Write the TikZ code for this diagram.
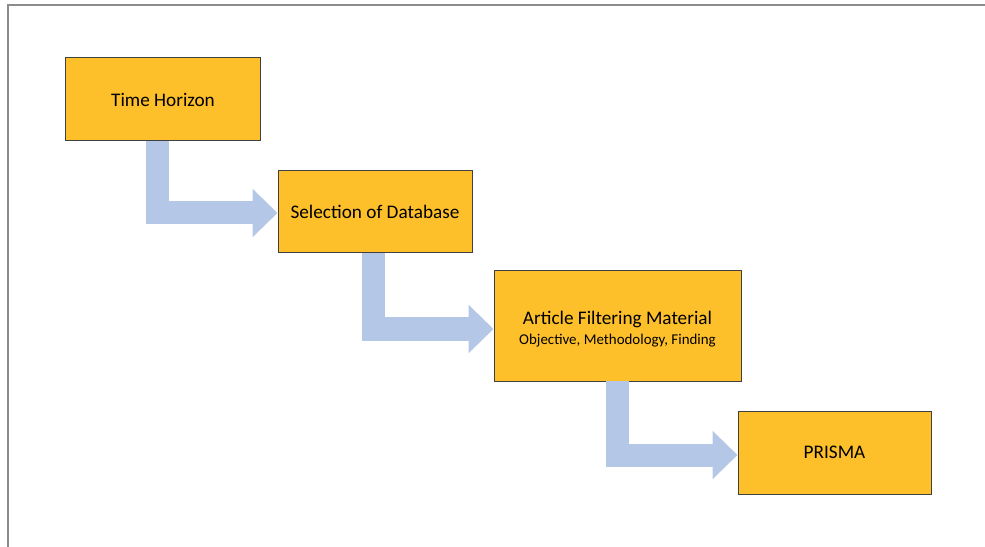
\documentclass[tikz,border=0pt]{standalone}
\usepackage{fontspec}
\setmainfont{Carlito}
\usetikzlibrary{arrows.meta}
\definecolor{boxfill}{HTML}{FEC02A}
\definecolor{boxline}{HTML}{404040}
\definecolor{arrowblue}{HTML}{B4C7E7}
\definecolor{framegray}{HTML}{8C8C8C}
\tikzset{
  stepbox/.style={draw=boxline, line width=1bp, fill=boxfill, inner sep=0pt,
    align=center, font=\fontsize{19.3}{23}\selectfont},
  bentarrow/.style={draw=arrowblue, line width=23bp, line join=miter,
    -{Triangle[length=25bp,width=47bp]}},
}
\begin{document}
\begin{tikzpicture}[x=1bp,y=-1bp]
\useasboundingbox (0,0) rectangle (985,547);
\draw[framegray, line width=2bp] (7.5,547) -- (7.5,5) -- (985,5);

\node[stepbox, minimum width=194bp, minimum height=83bp] (th) at (163,99.5) {Time Horizon};
\node[stepbox, minimum width=194bp, minimum height=82bp] (sd) at (375,212) {Selection of Database};
\node[stepbox, minimum width=247bp, minimum height=110bp] (af) at (617.5,326)
  {\rule{0pt}{19bp}Article Filtering Material\\[-3bp]{\fontsize{15}{18}\selectfont Objective, Methodology, Finding}};
\node[stepbox, minimum width=193bp, minimum height=83bp] (pr) at (834.5,452.5) {PRISMA};

\draw[bentarrow] ([xshift=-6bp,yshift=0.5bp]th.south) |- ([yshift=-1bp]sd.west);
\draw[bentarrow] ([xshift=-2bp,yshift=0.5bp]sd.south) |- ([yshift=-3bp]af.west);
\draw[bentarrow] ([yshift=0.5bp]af.south) |- ([yshift=-2.5bp]pr.west);
\end{tikzpicture}
\end{document}
